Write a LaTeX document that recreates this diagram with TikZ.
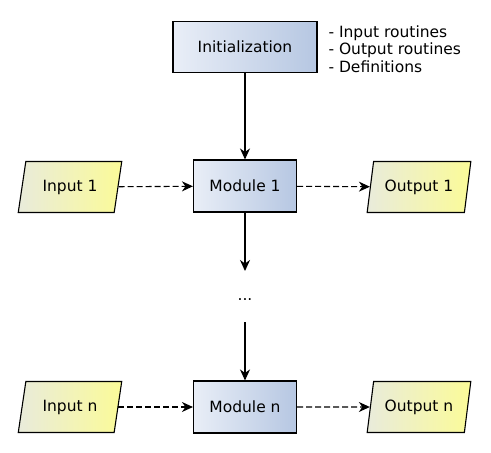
\documentclass[tikz,border=0pt]{standalone}
\usepackage{fontspec}
\setmainfont{DejaVu Sans}
\usepackage{xcolor}
\usetikzlibrary{shapes.geometric, arrows.meta}

\definecolor{modleft}{HTML}{E9EEF7}
\definecolor{modright}{HTML}{B6C7E2}
\definecolor{ioleft}{HTML}{E9EBDB}
\definecolor{ioright}{HTML}{FBFB98}

\begin{document}
\begin{tikzpicture}[>={Stealth[length=11pt,width=10pt,inset=3.5pt]}, x=1pt, y=-1pt,
    font=\fontsize{15.5}{17.5}\selectfont,
    module/.style={draw, line width=1.1pt, left color=modleft, right color=modright,
      minimum width=103pt, minimum height=52pt},
    io/.style={draw, line width=1.1pt, trapezium, trapezium left angle=76,
      trapezium right angle=104, trapezium stretches=true,
      left color=ioleft, right color=ioright,
      minimum width=104pt, minimum height=51pt},
    flow/.style={->, line width=1.1pt},
    data/.style={->, line width=1.1pt, dash pattern=on 6pt off 3pt}]
      \useasboundingbox (0,0) rectangle (491,453);

      \node[module, minimum width=144pt, minimum height=51pt] (init) at (245,47) {Initialization};
      \node[anchor=west, align=left] (notes) at (325,49) {- Input routines\\- Output routines\\- Definitions};

      \node[module] (mod1) at (245,186) {Module 1};
      \node[io] (in1) at (70,187) {Input 1};
      \node[io] (out1) at (419,187) {Output 1};

      \node (dots) at (245,300) {...};
      \coordinate (gapA) at (245,271);
      \coordinate (gapB) at (245,322);

      \node[module] (modn) at (245,407) {Module n};
      \node[io] (inn) at (70,407) {Input n};
      \node[io] (outn) at (419,407) {Output n};

      \draw[flow] (init) -- (mod1);
      \draw[flow] (mod1) -- (gapA);
      \draw[flow] (gapB) -- (modn);

      \draw[data] (in1) -- (mod1);
      \draw[data] (mod1) -- (out1);
      \draw[data] (inn) -- (modn);
      \draw[data] (modn) -- (outn);
    \end{tikzpicture}
\end{document}
